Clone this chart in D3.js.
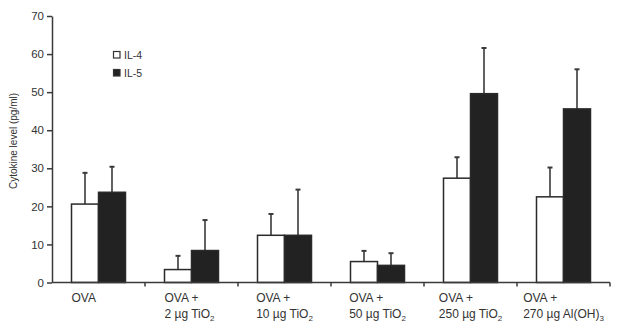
<!DOCTYPE html>
<html>
<head>
<meta charset="utf-8">
<script src="https://cdn.jsdelivr.net/npm/d3@7"></script>
<style>
  body { margin: 0; background: #fff; }
  text { font-family: "Liberation Sans", Arial, sans-serif; fill: #333; }
</style>
</head>
<body>
<svg id="chart" width="618" height="323"></svg>
<script>
'use strict';

// categories: [line 1, line 2, subscript at end of line 2]
var categories = ['OVA', '2 µg', '10 µg', '50 µg', '250 µg', '270 µg'];
var catLine1 = ['OVA', 'OVA +', 'OVA +', 'OVA +', 'OVA +', 'OVA +'];
var catLine2 = ['', '2 µg TiO', '10 µg TiO', '50 µg TiO', '250 µg TiO', '270 µg Al(OH)'];
var catSub = ['', '2', '2', '2', '2', '3'];

var series = ['IL-4', 'IL-5'];
var il4 = [20.6, 3.4, 12.4, 5.5, 27.4, 22.5];
var il4Sd = [8.2, 3.6, 5.6, 2.8, 5.5, 7.7];
var il5 = [23.7, 8.4, 12.4, 4.5, 49.6, 45.6];
var il5Sd = [6.7, 8.0, 12.0, 3.2, 12.0, 10.4];

var yTicks = [0, 10, 20, 30, 40, 50, 60, 70];

var svg = d3.select('#chart');
var margin = {left: 52, right: 8, top: 16, bottom: 40};
var width = 618, height = 323;
var x0 = margin.left, x1 = width - margin.right;
var y0 = 282.5, y1 = margin.top;

var x = d3.scaleBand().domain(categories).range([x0, x1]).paddingInner(0).paddingOuter(0);
var xs = d3.scaleBand().domain(series).range([0, 54]);
var y = d3.scaleLinear().domain([0, 70]).range([y0, y1]);

var axisColor = '#3a3a3a';

// bars
var rows = categories.map(function (c, i) {
    return [
        {cat: c, s: 'IL-4', v: il4[i], sd: il4Sd[i]},
        {cat: c, s: 'IL-5', v: il5[i], sd: il5Sd[i]}
    ];
});
var flat = [].concat.apply([], rows);

var barX = function (d) {
    return x(d.cat) + x.bandwidth() / 2 - 27 + xs(d.s);
};

// error bars (upward only)
var err = svg.append('g');
err.selectAll('line.v').data(flat).enter().append('line')
    .attr('x1', function (d) { return barX(d) + xs.bandwidth() / 2; })
    .attr('x2', function (d) { return barX(d) + xs.bandwidth() / 2; })
    .attr('y1', function (d) { return y(d.v); })
    .attr('y2', function (d) { return y(d.v + d.sd); })
    .attr('stroke', axisColor).attr('stroke-width', 1.6);
err.selectAll('line.c').data(flat).enter().append('line')
    .attr('x1', function (d) { return barX(d) + xs.bandwidth() / 2 - 2.5; })
    .attr('x2', function (d) { return barX(d) + xs.bandwidth() / 2 + 2.5; })
    .attr('y1', function (d) { return y(d.v + d.sd); })
    .attr('y2', function (d) { return y(d.v + d.sd); })
    .attr('stroke', axisColor).attr('stroke-width', 2);

svg.append('g').selectAll('rect').data(flat).enter().append('rect')
    .attr('x', barX)
    .attr('width', xs.bandwidth())
    .attr('y', function (d) { return y(d.v); })
    .attr('height', function (d) { return y0 - y(d.v); })
    .attr('fill', function (d) { return d.s === 'IL-4' ? '#fff' : '#222'; })
    .attr('stroke', '#2a2a2a')
    .attr('stroke-width', 1.5);

// y axis
var yAxis = d3.axisLeft(y).tickValues(yTicks).tickSize(5).tickSizeOuter(0);
var gy = svg.append('g').attr('transform', 'translate(' + x0 + ',0)').call(yAxis);
gy.select('.domain').attr('stroke', axisColor).attr('stroke-width', 1.5);
gy.selectAll('.tick line').attr('stroke', axisColor).attr('stroke-width', 1.5);
gy.selectAll('.tick text').attr('x', -8).style('font-size', '11.5px').attr('fill', '#333');

// x axis with ticks at category boundaries
var bounds = categories.map(function (c) { return x(c); }).concat([x1]);
var gx = svg.append('g');
gx.append('line').attr('x1', x0).attr('x2', x1).attr('y1', y0).attr('y2', y0)
    .attr('stroke', axisColor).attr('stroke-width', 1.5);
gx.selectAll('line.t').data(bounds.slice(1)).enter().append('line')
    .attr('x1', function (d) { return d; }).attr('x2', function (d) { return d; })
    .attr('y1', y0).attr('y2', y0 + 4)
    .attr('stroke', axisColor).attr('stroke-width', 1.5);

// category labels
categories.forEach(function (c, i) {
    var g = svg.append('g');
    var t1 = g.append('text').attr('y', 302).style('font-size', '12px').text(catLine1[i]);
    var t2 = g.append('text').attr('y', 318).style('font-size', '12px');
    if (catLine2[i]) {
        t2.append('tspan').text(catLine2[i]);
        t2.append('tspan').attr('dy', 3).style('font-size', '8px').text(catSub[i]);
    }
    var w = Math.max(t1.node().getComputedTextLength(), t2.node().getComputedTextLength(), 54);
    var left = x(c) + x.bandwidth() / 2 - w / 2;
    t1.attr('x', left);
    t2.attr('x', left);
});

// y label
svg.append('text')
    .attr('transform', 'translate(17,141) rotate(-90)')
    .attr('text-anchor', 'middle')
    .style('font-size', '10px')
    .text('Cytokine level (pg/ml)');

// legend
var legend = svg.append('g').attr('transform', 'translate(113,51)');
series.forEach(function (s, i) {
    legend.append('rect').attr('x', 0.5).attr('y', i * 18 + 0.5).attr('width', 6.5).attr('height', 6.5)
        .attr('fill', s === 'IL-4' ? '#fff' : '#222').attr('stroke', '#333').attr('stroke-width', 1.2);
    legend.append('text').attr('x', 11).attr('y', i * 18 + 7.5).style('font-size', '10.5px').text(s);
});
</script>
</body>
</html>
